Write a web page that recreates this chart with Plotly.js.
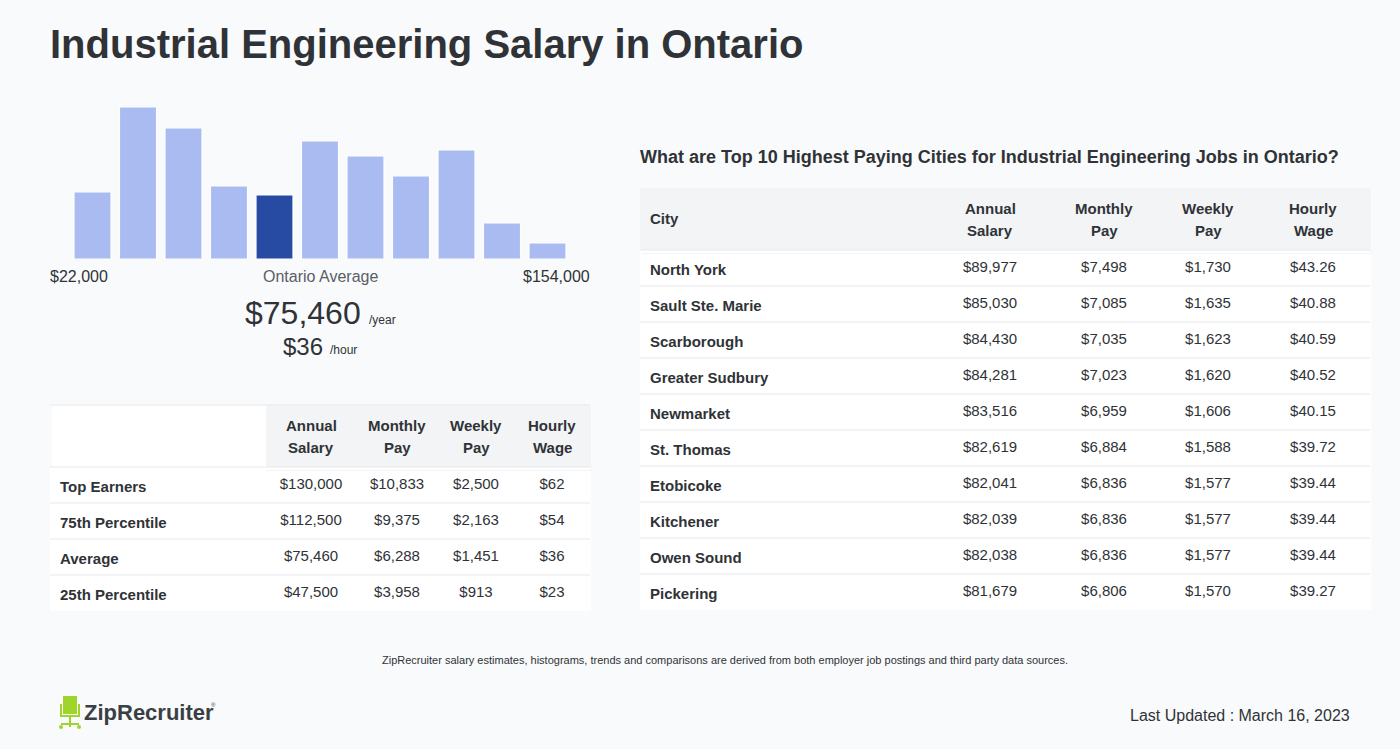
<!DOCTYPE html>
<html>
<head>
<meta charset="utf-8">
<script src="https://cdn.plot.ly/plotly-3.0.1.min.js"></script>
<style>
  html, body { margin: 0; padding: 0; background: #f9fafc; }
  #chart { width: 1400px; height: 749px; }
</style>
</head>
<body>
<div id="chart"></div>
<script>
// ---------- DATA ----------
const histBins = [1, 2, 3, 4, 5, 6, 7, 8, 9, 10, 11];
const histCounts = [67, 152, 131, 73, 64, 118, 103, 83, 109, 36, 16];
const averageBin = 5;
const histMinLabel = "$22,000";
const histMaxLabel = "$154,000";
const histMidLabel = "Ontario Average";
const avgAnnual = "$75,460";
const avgHourly = "$36";

const pctHeaders = ["", "Annual<br>Salary", "Monthly<br>Pay", "Weekly<br>Pay", "Hourly<br>Wage"];
const pctLabels = ["Top Earners", "75th Percentile", "Average", "25th Percentile"];
const pctAnnual = ["$130,000", "$112,500", "$75,460", "$47,500"];
const pctMonthly = ["$10,833", "$9,375", "$6,288", "$3,958"];
const pctWeekly = ["$2,500", "$2,163", "$1,451", "$913"];
const pctHourly = ["$62", "$54", "$36", "$23"];

const cityHeaders = ["City", "Annual<br>Salary", "Monthly<br>Pay", "Weekly<br>Pay", "Hourly<br>Wage"];
const cities = ["North York", "Sault Ste. Marie", "Scarborough", "Greater Sudbury", "Newmarket",
                "St. Thomas", "Etobicoke", "Kitchener", "Owen Sound", "Pickering"];
const cityAnnual = ["$89,977", "$85,030", "$84,430", "$84,281", "$83,516", "$82,619", "$82,041", "$82,039", "$82,038", "$81,679"];
const cityMonthly = ["$7,498", "$7,085", "$7,035", "$7,023", "$6,959", "$6,884", "$6,836", "$6,836", "$6,836", "$6,806"];
const cityWeekly = ["$1,730", "$1,635", "$1,623", "$1,620", "$1,606", "$1,588", "$1,577", "$1,577", "$1,577", "$1,570"];
const cityHourly = ["$43.26", "$40.88", "$40.59", "$40.52", "$40.15", "$39.72", "$39.44", "$39.44", "$39.44", "$39.27"];

// ---------- LAYOUT HELPERS ----------
const W = 1400, H = 749;
const px = x => x / W;
const py = y => 1 - y / H;
const FONT = "Liberation Sans, Arial, Helvetica, sans-serif";
const TXT = "#2f3337";
const BG = "#f9fafc";
const LIGHT = "#a9bbf0", DARK = "#274ba2";
const HEAD_FILL = "#f3f4f6";
const SEP = "#e7e9ec";

const barColors = histBins.map(b => b === averageBin ? DARK : LIGHT);

const hist = {
  type: "bar", x: histBins, y: histCounts, xaxis: "x", yaxis: "y",
  marker: { color: barColors, line: { color: "#ffffff", width: 1 } },
  hoverinfo: "skip", showlegend: false
};

const boldCol = arr => arr.map(s => "<b>" + s + "</b>");
const headerH = 62, rowH = 36;
const TEXT_DX = 2, TEXT_DY = 3;   // nudge cell text (plotly tables top-align their text)

// table geometry (pixels)
const pctGeom = { x0: 50, x1: 590, top: 405, widths: [216, 90, 82, 76, 76] };
const cityGeom = { x0: 640, x1: 1370, top: 188, widths: [292, 116, 112, 96, 114] };

function makeTable(geom, headers, cols, firstHeadFill, nRows) {
  const headFills = headers.map((h, i) => i === 0 ? firstHeadFill : HEAD_FILL);
  const widths = geom.widths.slice();
  widths[0] -= TEXT_DX;
  return {
    type: "table",
    domain: { x: [px(geom.x0 + TEXT_DX), px(geom.x1)], y: [py(geom.top + headerH + TEXT_DY + nRows * rowH + 4), py(geom.top)] },
    columnwidth: widths,
    header: {
      values: headers.map(() => ""),
      height: headerH + TEXT_DY,
      fill: { color: headFills },
      line: { color: headFills, width: 1 },
      font: { family: FONT, size: 15, color: TXT }
    },
    cells: {
      values: cols,
      height: rowH,
      align: ["left", "center", "center", "center", "center"],
      fill: { color: "#ffffff" },
      line: { color: "#ffffff", width: 1 },
      font: { family: FONT, size: 15, color: TXT }
    }
  };
}

const pctTable = makeTable(pctGeom, pctHeaders,
  [boldCol(pctLabels), pctAnnual, pctMonthly, pctWeekly, pctHourly], "#ffffff", pctLabels.length);
const cityTable = makeTable(cityGeom, cityHeaders,
  [boldCol(cities), cityAnnual, cityMonthly, cityWeekly, cityHourly], HEAD_FILL, cities.length);

// row separators / masks computed from table geometry
const shapes = [];
function separators(geom, nRows, includeTop) {
  const line = y => ({ type: "line", xref: "paper", yref: "paper", x0: px(geom.x0), x1: px(geom.x1), y0: py(y), y1: py(y), line: { color: SEP, width: 1 } });
  const bottom = geom.top + headerH + nRows * rowH;
  // white band hiding the header fill overflow below the header
  shapes.push({ type: "rect", xref: "paper", yref: "paper", x0: px(geom.x0 + TEXT_DX), x1: px(geom.x1), y0: py(geom.top + headerH + TEXT_DY), y1: py(geom.top + headerH), fillcolor: "#ffffff", line: { width: 0 } });
  // white band at left edge of rows
  shapes.push({ type: "rect", xref: "paper", yref: "paper", x0: px(geom.x0), x1: px(geom.x0 + TEXT_DX), y0: py(bottom), y1: py(geom.top + headerH), fillcolor: "#ffffff", line: { width: 0 }, layer: "below" });
  // background band hiding the row overflow below the last row
  shapes.push({ type: "rect", xref: "paper", yref: "paper", x0: px(geom.x0), x1: px(geom.x1 + 1), y0: py(bottom + TEXT_DY + 3), y1: py(bottom), fillcolor: BG, line: { width: 0 } });
  if (includeTop) shapes.push(line(geom.top));
  for (let i = 0; i < nRows; i++) shapes.push(line(geom.top + headerH + i * rowH));
}
separators(pctGeom, pctLabels.length, true);
separators(cityGeom, cities.length, false);
// header left edge fill (city table header is grey across)
shapes.push({ type: "rect", xref: "paper", yref: "paper", x0: px(cityGeom.x0), x1: px(cityGeom.x0 + TEXT_DX), y0: py(cityGeom.top + headerH), y1: py(cityGeom.top), fillcolor: HEAD_FILL, line: { width: 0 }, layer: "below" });

// ZipRecruiter chair logo (decorative)
const G = "#9fd52b";
shapes.push({ type: "rect", xref: "paper", yref: "paper", x0: px(63), x1: px(77), y0: py(714), y1: py(696), fillcolor: G, line: { width: 0 } });
shapes.push({ type: "path", xref: "paper", yref: "paper", path: `M ${px(61)},${py(704)} L ${px(61)},${py(716)} L ${px(79)},${py(716)} L ${px(79)},${py(704)}`, line: { color: G, width: 2 } });
shapes.push({ type: "line", xref: "paper", yref: "paper", x0: px(70), x1: px(70), y0: py(716), y1: py(727), line: { color: G, width: 2 } });
shapes.push({ type: "line", xref: "paper", yref: "paper", x0: px(61), x1: px(79), y0: py(724), y1: py(724), line: { color: G, width: 2 } });
shapes.push({ type: "circle", xref: "paper", yref: "paper", x0: px(59), x1: px(63), y0: py(729), y1: py(725), fillcolor: G, line: { width: 0 } });
shapes.push({ type: "circle", xref: "paper", yref: "paper", x0: px(77), x1: px(81), y0: py(729), y1: py(725), fillcolor: G, line: { width: 0 } });

const ann = (text, x, y, size, opts = {}) => Object.assign({
  text: text, xref: "paper", yref: "paper", x: px(x), y: py(y),
  xanchor: "left", yanchor: "middle", showarrow: false,
  font: { family: FONT, size: size, color: TXT }
}, opts);

const annotations = [
  ann("<b>Industrial Engineering Salary in Ontario</b>", 48, 44, 40),
  ann("<b>What are Top 10 Highest Paying Cities for Industrial Engineering Jobs in Ontario?</b>", 638, 157, 18),
  ann(histMinLabel, 48, 276, 16),
  ann(histMidLabel, 320, 276, 16, { xanchor: "center", font: { family: FONT, size: 16, color: "#5a5f64" } }),
  ann(histMaxLabel, 592, 276, 16, { xanchor: "right" }),
  ann(avgAnnual, 243, 313, 32),
  ann("/year", 367, 320, 12),
  ann(avgHourly, 281, 346, 24),
  ann("/hour", 328, 350, 12),
  ann("ZipRecruiter salary estimates, histograms, trends and comparisons are derived from both employer job postings and third party data sources.", 725, 660, 11, { xanchor: "center" }),
  ann("Last Updated : March 16, 2023", 1352, 715, 16, { xanchor: "right" }),
  ann("<b>ZipRecruiter</b>", 82, 712, 22, { font: { family: FONT, size: 22, color: "#3a3f44" } }),
  ann("®", 209, 705, 6, { font: { family: FONT, size: 6, color: "#3a3f44" } })
];

// header labels placed at the column positions of each table
function headerLabels(geom, headers) {
  let left = geom.x0;
  headers.forEach((h, i) => {
    const w = geom.widths[i];
    const lines = h.split("<br>").filter(s => s.length);
    if (i === 0) {
      if (lines.length) annotations.push(ann("<b>" + lines[0] + "</b>", left + 8, geom.top + headerH / 2, 15));
    } else {
      const cx = left + w / 2;
      lines.forEach((s, k) => {
        const y = geom.top + headerH / 2 + (k - (lines.length - 1) / 2) * 22;
        annotations.push(ann("<b>" + s + "</b>", cx, y, 15, { xanchor: "center" }));
      });
    }
    left += w;
  });
}
headerLabels(pctGeom, pctHeaders);
headerLabels(cityGeom, cityHeaders);

const layout = {
  width: W, height: H,
  margin: { l: 0, r: 0, t: 0, b: 0 },
  paper_bgcolor: BG, plot_bgcolor: "rgba(0,0,0,0)",
  font: { family: FONT, color: TXT },
  bargap: 0.19,
  xaxis: { domain: [px(69.75), px(570.25)], range: [0.5, 11.5], visible: false, fixedrange: true },
  yaxis: { domain: [py(259), py(107)], range: [0, 152], visible: false, fixedrange: true },
  showlegend: false,
  shapes: shapes,
  annotations: annotations
};

Plotly.newPlot("chart", [hist, pctTable, cityTable], layout, { displayModeBar: false, staticPlot: true });
</script>
</body>
</html>
